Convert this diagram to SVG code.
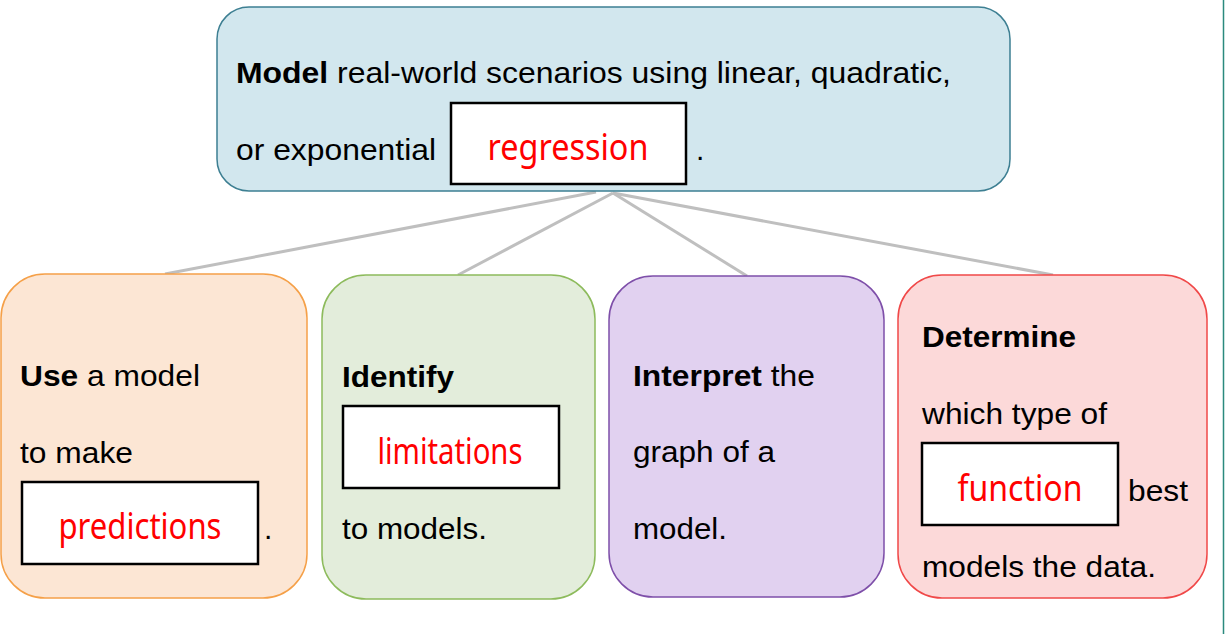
<svg xmlns="http://www.w3.org/2000/svg" width="1225" height="634" viewBox="0 0 1225 634">
  <style>
    .t { font-family: "Liberation Sans", Arial, sans-serif; font-size: 30px; fill: #000; }
    .b { font-weight: bold; }
    .ans { font-family: "Noto Sans", "DejaVu Sans", sans-serif; font-size: 36px; fill: #ff0000; text-anchor: middle; }
    .blank { fill: #ffffff; stroke: #000000; stroke-width: 2.5; }
    .link { stroke: #bfbfbf; stroke-width: 3; fill: none; }
  </style>
  <rect x="0" y="0" width="1225" height="634" fill="#ffffff"/>
  <!-- right page edge -->
  <line x1="1223.5" y1="0" x2="1223.5" y2="634" stroke="#2b8a7e" stroke-width="1.5"/>

  <!-- connectors from the central goal to each sub-goal -->
  <g id="connectors">
    <line class="link" x1="596" y1="192" x2="165" y2="274"/>
    <line class="link" x1="613" y1="193" x2="458" y2="275"/>
    <line class="link" x1="613" y1="193" x2="747" y2="276"/>
    <line class="link" x1="613" y1="193" x2="1053" y2="275"/>
  </g>

  <g id="node-model">
    <rect x="217" y="7" width="793" height="184" rx="32" fill="#d2e7ee" stroke="#3d7f92" stroke-width="1.5"/>
    <text class="t" x="236" y="83" textLength="715" lengthAdjust="spacingAndGlyphs"><tspan class="b">Model</tspan> real-world scenarios using linear, quadratic,</text>
    <text class="t" x="236" y="160" textLength="200" lengthAdjust="spacingAndGlyphs">or exponential</text>
    <rect class="blank" x="451" y="103" width="235" height="81"/>
    <text class="ans" x="568" y="160" textLength="161" lengthAdjust="spacingAndGlyphs">regression</text>
    <text class="t" x="696" y="160">.</text>
  </g>

  <g id="node-use">
    <rect x="1" y="274" width="306" height="324" rx="44" fill="#fce6d4" stroke="#f5a048" stroke-width="1.5"/>
    <text class="t" x="20" y="386" textLength="180" lengthAdjust="spacingAndGlyphs"><tspan class="b">Use</tspan> a model</text>
    <text class="t" x="20" y="463" textLength="113" lengthAdjust="spacingAndGlyphs">to make</text>
    <rect class="blank" x="22" y="482" width="236" height="82"/>
    <text class="ans" x="140" y="539" textLength="163" lengthAdjust="spacingAndGlyphs">predictions</text>
    <text class="t" x="264" y="539">.</text>
  </g>

  <g id="node-identify">
    <rect x="322" y="275" width="273" height="324" rx="44" fill="#e3eddb" stroke="#8dbb5c" stroke-width="1.5"/>
    <text class="t b" x="342" y="387" textLength="112" lengthAdjust="spacingAndGlyphs">Identify</text>
    <rect class="blank" x="343" y="406" width="216" height="82"/>
    <text class="ans" x="450" y="464" textLength="145" lengthAdjust="spacingAndGlyphs">limitations</text>
    <text class="t" x="342" y="539" textLength="145" lengthAdjust="spacingAndGlyphs">to models.</text>
  </g>

  <g id="node-interpret">
    <rect x="609" y="276" width="275" height="321" rx="44" fill="#e1d1f0" stroke="#7e4fa9" stroke-width="1.5"/>
    <text class="t" x="633" y="386" textLength="182" lengthAdjust="spacingAndGlyphs"><tspan class="b">Interpret</tspan> the</text>
    <text class="t" x="633" y="462" textLength="142" lengthAdjust="spacingAndGlyphs">graph of a</text>
    <text class="t" x="633" y="539" textLength="94" lengthAdjust="spacingAndGlyphs">model.</text>
  </g>

  <g id="node-determine">
    <rect x="898" y="275" width="309" height="323" rx="44" fill="#fcd9d9" stroke="#f04848" stroke-width="1.5"/>
    <text class="t b" x="922" y="347" textLength="154" lengthAdjust="spacingAndGlyphs">Determine</text>
    <text class="t" x="922" y="424" textLength="185" lengthAdjust="spacingAndGlyphs">which type of</text>
    <rect class="blank" x="922" y="443" width="196" height="82"/>
    <text class="ans" x="1020" y="501" textLength="125" lengthAdjust="spacingAndGlyphs">function</text>
    <text class="t" x="1128" y="501" textLength="60" lengthAdjust="spacingAndGlyphs">best</text>
    <text class="t" x="922" y="577" textLength="234" lengthAdjust="spacingAndGlyphs">models the data.</text>
  </g>
</svg>
